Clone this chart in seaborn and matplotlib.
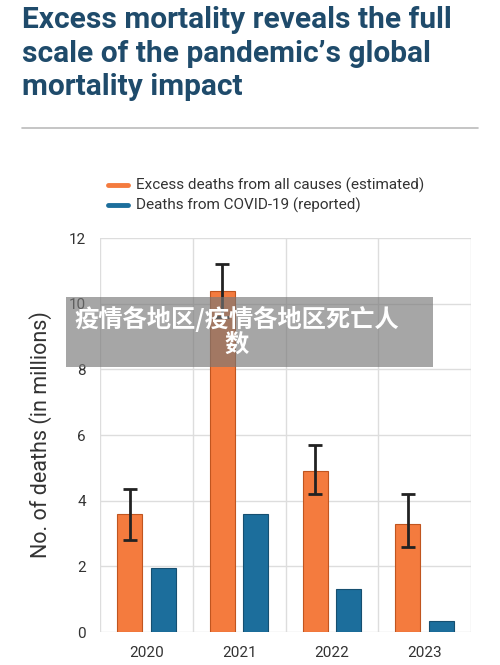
import matplotlib
matplotlib.use("Agg")
import matplotlib.pyplot as plt
import seaborn as sns
import pandas as pd
import numpy as np
from matplotlib.patches import Rectangle

years = ["2020", "2021", "2022", "2023"]
excess = [3.6, 10.4, 4.9, 3.3]
excess_low = [2.8, 9.6, 4.2, 2.6]
excess_high = [4.35, 11.2, 5.7, 4.2]
covid = [1.95, 3.6, 1.3, 0.35]
series = ["Excess deaths from all causes (estimated)", "Deaths from COVID-19 (reported)"]
colors = ["#F47B3E", "#1C6E9C"]

sns.set_style("white")
plt.rcParams['font.family'] = ['Roboto', 'Noto Sans CJK SC', 'DejaVu Sans']

df = pd.DataFrame({
    "year": years * 2,
    "value": excess + covid,
    "series": [series[0]] * 4 + [series[1]] * 4,
})

W, H = 500, 665
fig = plt.figure(figsize=(W / 100, H / 100), dpi=100)
ax = fig.add_axes([100 / W, 1 - 632 / H, 371 / W, 394 / H])
sns.barplot(data=df, x="year", y="value", hue="series", palette=colors, saturation=1,
            width=0.72, gap=0.25, ax=ax, legend=False, edgecolor="#c0551f", linewidth=0.8)
for p in ax.patches:
    if p.get_facecolor()[2] > 0.4:
        p.set_edgecolor("#164f70")

exc_patches = [p for p in ax.patches if p.get_facecolor()[0] > 0.8 and p.get_height() > 0]
exc_patches.sort(key=lambda p: p.get_x())
xs = [p.get_x() + p.get_width() / 2 for p in exc_patches]
yerr = np.array([[e - l for e, l in zip(excess, excess_low)], [h - e for e, h in zip(excess, excess_high)]])
ax.errorbar(xs, excess, yerr=yerr, fmt="none", ecolor="#222222", elinewidth=2, capsize=5, capthick=2, zorder=5)

ax.set_ylim(0, 12)
ax.set_xlim(-0.5, 3.5)
ax.set_yticks(range(0, 13, 2))
ax.set_xticks([-0.5, 0.5, 1.5, 2.5, 3.5], minor=True)
ax.grid(True, axis="y", color="#dddddd", linewidth=1)
ax.grid(True, axis="x", which="minor", color="#dddddd", linewidth=1)
ax.set_axisbelow(True)
for s in ax.spines.values():
    s.set_visible(False)
ax.tick_params(axis="both", which="both", length=0, labelsize=11, labelcolor="#333333", pad=10)
ax.set_xlabel("")
ax.set_ylabel("No. of deaths (in millions)", fontsize=15.5, color="#333333", labelpad=12)

fig.text(22 / W, 1 - 6 / H, "Excess mortality reveals the full\nscale of the pandemic\u2019s global\nmortality impact",
         ha="left", va="top", fontsize=21.5, fontweight="bold", color="#1F4B6B", linespacing=1.25)
fig.add_artist(plt.Line2D([22 / W, 478 / W], [1 - 128 / H, 1 - 128 / H], color="#bbbbbb", lw=1.2))

for i, (lab, c) in enumerate(zip(series, colors)):
    y = 1 - (185 + i * 20) / H
    fig.add_artist(plt.Line2D([108 / W, 128 / W], [y, y], color=c, lw=3.5))
    fig.text(136 / W, y, lab, ha="left", va="center", fontsize=11, color="#333333")

fig.add_artist(Rectangle((66 / W, 1 - 367 / H), 367 / W, 70 / H, transform=fig.transFigure,
                         facecolor="#777777", alpha=0.65, edgecolor="none", zorder=10))
fig.text(237 / W, 1 - 332 / H, "疫情各地区/疫情各地区死亡人\n数", ha="center", va="center",
         fontsize=17.5, fontweight="bold", color="white", zorder=11, linespacing=1.1,
         family=['Noto Sans CJK SC', 'DejaVu Sans'])

fig.savefig("out.png", dpi=100)
